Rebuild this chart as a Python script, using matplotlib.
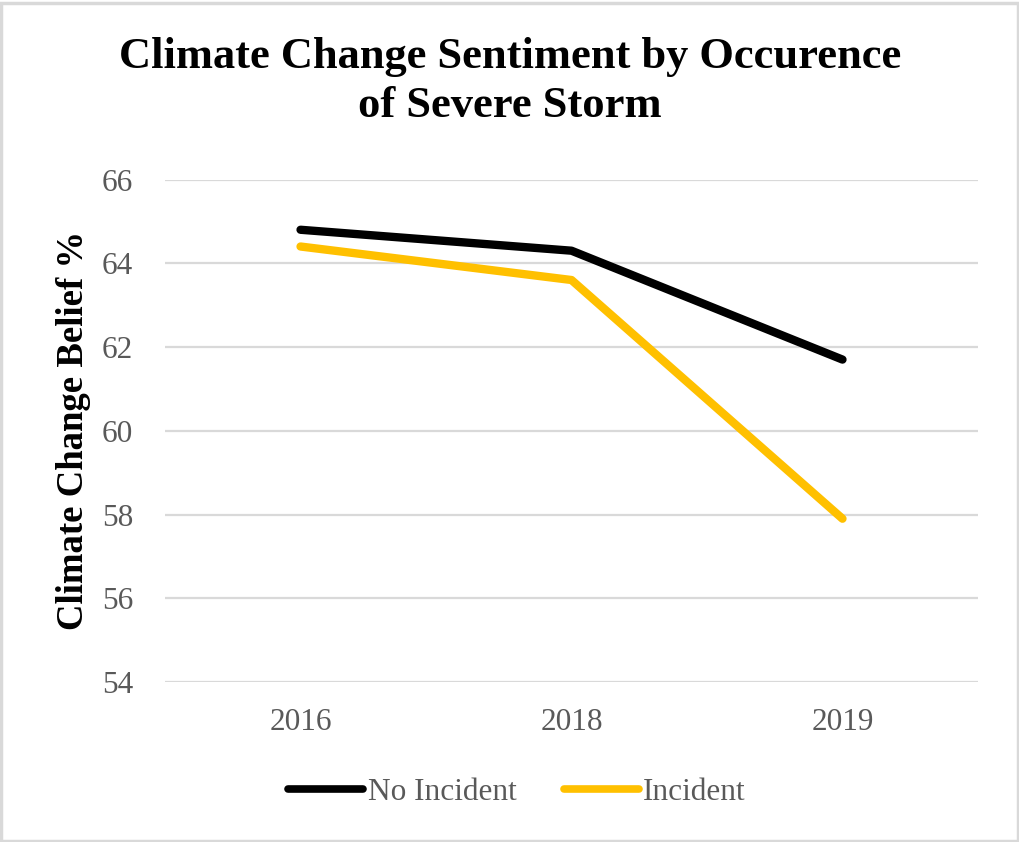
import matplotlib
matplotlib.use("Agg")
import matplotlib.pyplot as plt
from matplotlib.patches import Rectangle

years = ["2016", "2018", "2019"]
no_incident = [64.8, 64.3, 61.7]
incident = [64.4, 63.6, 57.9]
y_ticks = [54, 56, 58, 60, 62, 64, 66]

plt.rcParams["font.family"] = ["Liberation Serif", "DejaVu Serif"]

fig = plt.figure(figsize=(10.2, 8.42), dpi=100)
ax = fig.add_axes([0.1618, 0.19, 0.797, 0.5968])

x = list(range(len(years)))
ax.plot(x, no_incident, color="black", lw=6, solid_capstyle="round",
        solid_joinstyle="round", label="No Incident", zorder=3)
ax.plot(x, incident, color="#FFC000", lw=6, solid_capstyle="round",
        solid_joinstyle="round", label="Incident", zorder=3)

ax.set_xlim(-0.5, 2.5)
ax.set_ylim(54, 66)
ax.set_yticks(y_ticks)
ax.set_xticks(x)
ax.set_xticklabels(years)
ax.grid(axis="y", color="#D9D9D9", lw=1.6)
ax.set_axisbelow(True)
for s in ax.spines.values():
    s.set_visible(False)
ax.tick_params(length=0, labelsize=22.5, labelcolor="#595959")
ax.tick_params(axis="y", pad=23)
ax.tick_params(axis="x", pad=19)

ax.set_ylabel("Climate Change Belief %", fontsize=26.5, fontweight="bold",
              labelpad=8)

fig.text(0.5, 0.903, "Climate Change Sentiment by Occurence\nof Severe Storm",
         ha="center", va="center", fontsize=32, fontweight="bold",
         linespacing=1.3)

leg = fig.legend(loc="center", bbox_to_anchor=(0.507, 0.059), ncol=2,
                 frameon=False, fontsize=22.5, handlelength=2.4,
                 handletextpad=0.15, columnspacing=1.5)
for t in leg.get_texts():
    t.set_color("#595959")
for h in leg.get_lines():
    h.set_linewidth(5.5)
    h.set_solid_capstyle("round")

fig.patches.append(Rectangle((0.001, 0.001), 0.997, 0.995,
                             transform=fig.transFigure, fill=False,
                             edgecolor="#D9D9D9", lw=2.5))

fig.savefig("out.png", dpi=100)
